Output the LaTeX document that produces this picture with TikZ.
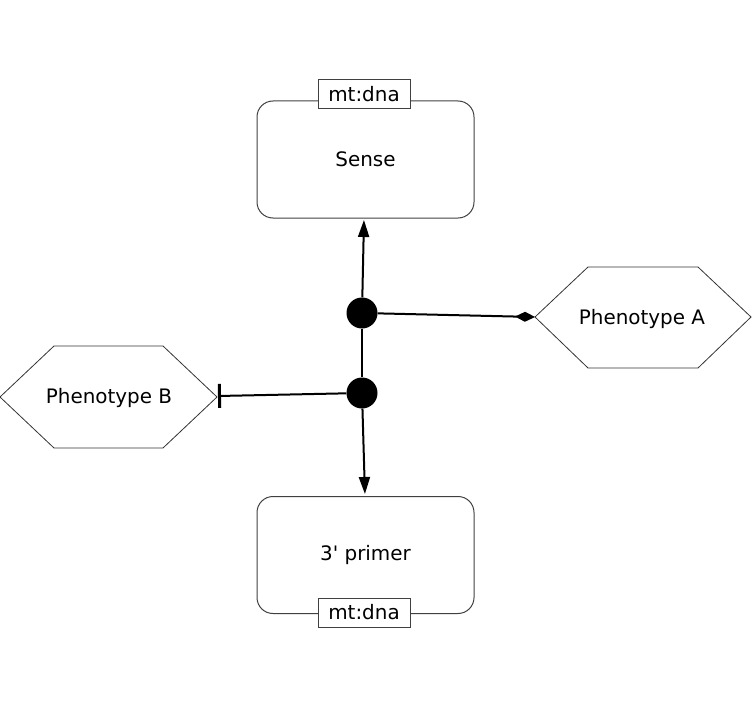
\documentclass[tikz,border=0pt]{standalone}
\usepackage{fontspec}
\newfontfamily\lblfont{DejaVu Sans}
\usetikzlibrary{arrows.meta}
\begin{document}
\begin{tikzpicture}[x=1bp,y=-1bp,
  lbl/.style={font=\lblfont\fontsize{20}{24}\selectfont},
  box/.style={lbl, draw=black!75, line width=1bp, rounded corners=16bp, minimum width=217bp, minimum height=117bp, inner sep=0pt},
  tag/.style={lbl, draw=black!75, fill=white, line width=1bp, minimum width=92bp, minimum height=29bp, inner sep=0pt},
  hex/.style={draw=black!80, line width=0.8bp},
  conn/.style={line width=2bp, black},
  dot/.style={circle, fill=black, minimum size=31bp, inner sep=0pt}
]
\useasboundingbox (0,0) rectangle (752,708);

% process nodes
\node[box] (sense) at (365.5,159.5) {Sense};
\node[tag] (tagS) at (364,94.5) {mt:dna};
\node[box] (primer) at (365.5,555) {3' primer};
\node[tag] (tagP) at (364,612.5) {mt:dna};

% phenotypes
\draw[hex] (535,317) -- (588,267) -- (698,267) -- (751,317) -- (698,368) -- (588,368) -- cycle;
\coordinate (paTip) at (535,317);
\node[lbl] (phA) at (642,319) {Phenotype A};
\draw[hex] (0,397) -- (54,346) -- (163,346) -- (217,397) -- (163,448) -- (54,448) -- cycle;
\coordinate (pbTip) at (218,396);
\node[lbl] (phB) at (109,398) {Phenotype B};

% association dots
\node[dot] (d1) at (362,313) {};
\node[dot] (d2) at (362,393) {};

% connectors
\draw[conn] (d1) -- (d2);
\draw[conn, -{Triangle[length=17bp,width=11bp]}, shorten >=2bp] (d1) -- (364,218);
\draw[conn, -{Triangle[length=17bp,width=11bp]}, shorten >=2bp] (d2) -- (365,496);
\draw[conn, -{Diamond[length=20bp,width=10bp]}] (d1) -- (paTip);
\draw[conn, -{Bar[width=24bp,line width=3bp]}] (d2) -- (pbTip);
\end{tikzpicture}
\end{document}
